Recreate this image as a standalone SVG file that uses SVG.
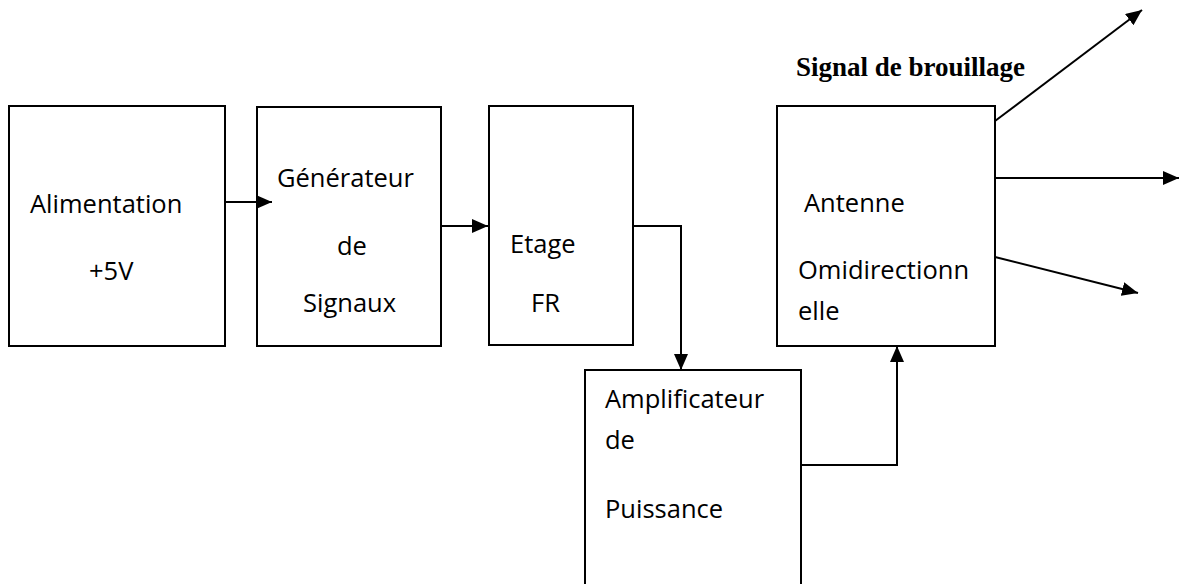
<svg xmlns="http://www.w3.org/2000/svg" width="1180" height="584" viewBox="0 0 1180 584">
<style>
.box{fill:#fff;stroke:#000;stroke-width:2}
.ln{fill:none;stroke:#000;stroke-width:2}
.lt{fill:none;stroke:#000;stroke-width:2}
.t{font-family:"Open Sans",sans-serif;font-size:25.5px;fill:#000}
.title{font-family:"Liberation Serif",serif;font-weight:bold;font-size:27px;fill:#000}
</style>
<defs>
<marker id="ah" markerUnits="userSpaceOnUse" markerWidth="17" markerHeight="14" refX="16" refY="7" orient="auto">
<path d="M0,0 L16,7 L0,14 Z" fill="#000"/>
</marker>
</defs>
<rect width="1180" height="584" fill="#fff"/>
<g id="alimentation">
<rect class="box" x="9" y="106" width="216" height="240"/>
<text class="t" x="30" y="213">Alimentation</text>
<text class="t" x="89" y="280">+5V</text>
</g>
<g id="generateur">
<rect class="box" x="257" y="107" width="184" height="239"/>
<text class="t" x="277" y="187">Générateur</text>
<text class="t" x="337" y="255">de</text>
<text class="t" x="303" y="312">Signaux</text>
</g>
<g id="etage">
<rect class="box" x="489" y="106" width="144" height="239"/>
<text class="t" x="510" y="253">Etage</text>
<text class="t" x="531" y="312">FR</text>
</g>
<g id="amplificateur">
<rect class="box" x="585" y="370" width="216" height="230"/>
<text class="t" x="605" y="408">Amplificateur</text>
<text class="t" x="605" y="449">de</text>
<text class="t" x="605" y="518">Puissance</text>
</g>
<g id="antenne">
<rect class="box" x="777" y="106" width="218" height="240"/>
<text class="t" x="804" y="212">Antenne</text>
<text class="t" x="798" y="279">Omidirectionn</text>
<text class="t" x="798" y="320">elle</text>
</g>
<g id="title">
<text class="title" x="796" y="76">Signal de brouillage</text>
</g>
<g id="connectors">
<path class="ln" d="M225,202 H272" marker-end="url(#ah)"/>
<path class="ln" d="M441,226 H488" marker-end="url(#ah)"/>
<path class="ln" d="M633,226 H681 V370" marker-end="url(#ah)"/>
<path class="ln" d="M801,465 H897 V346" marker-end="url(#ah)"/>
<path class="lt" d="M995,121 L1142,10" marker-end="url(#ah)"/>
<path class="lt" d="M995,178 H1179" marker-end="url(#ah)"/>
<path class="lt" d="M995,257 L1138,293" marker-end="url(#ah)"/>
</g>
</svg>
